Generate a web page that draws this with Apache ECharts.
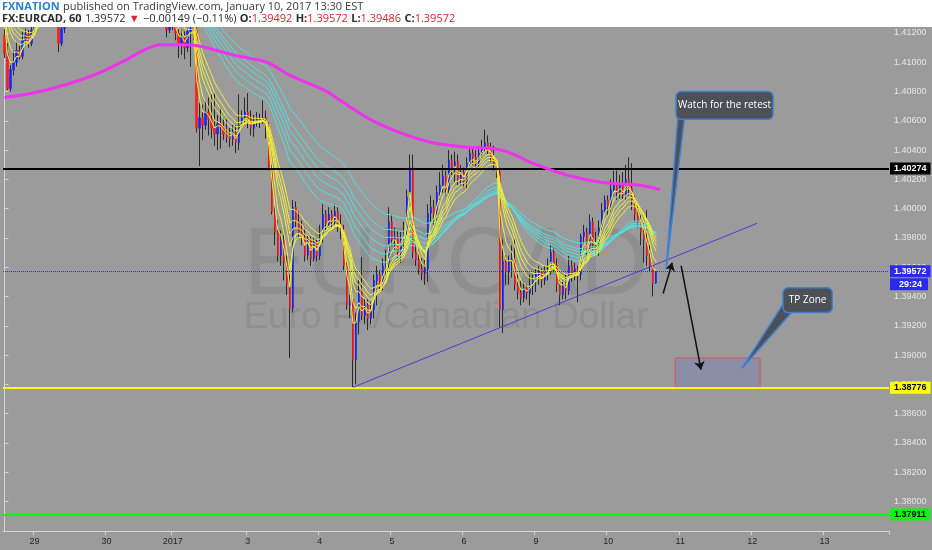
<!DOCTYPE html>
<html><head><meta charset="utf-8">
<script src="https://cdn.jsdelivr.net/npm/echarts@6/dist/echarts.min.js"></script>
<style>html,body{margin:0;padding:0;background:#9b9b9b;}#c{width:932px;height:550px;}</style>
</head><body><div id="c"></div>
<script>
// ---- axis / tick data ----
const barCount = 295;
const dayLabels = ['29','30','2017','3','4','5','6','9','10','11','12','13'];
const dayLabelBars = [10,34,56,81,105,129,153,177,201,225,249,273];
const yTicks = [1.380,1.382,1.384,1.386,1.388,1.390,1.392,1.394,1.396,1.398,1.400,1.402,1.404,1.406,1.408,1.410,1.412];
const yMin = 1.37798, yMax = 1.41241;

// ---- hourly EURCAD candles ----
const opens = [
1.4119,1.4106,1.4082,1.4095,1.4100,1.4108,1.4104,1.4115,1.4119,1.4113,
1.4122,1.4129,1.4145,1.4141,1.4150,1.4145,1.4140,1.4147,1.4139,1.4113,
1.4123,1.4143,1.4158,1.4165,1.4172,1.4177,1.4173,1.4180,1.4176,1.4182,
1.4187,1.4181,1.4185,1.4179,1.4175,1.4180,1.4184,1.4178,1.4174,1.4178,
1.4171,1.4175,1.4169,1.4173,1.4167,1.4170,1.4164,1.4168,1.4162,1.4166,
1.4161,1.4159,1.4149,1.4144,1.4134,1.4122,1.4125,1.4128,1.4120,1.4112,
1.4117,1.4110,1.4121,1.4123,1.4122,1.4055,1.4062,1.4057,1.4066,1.4061,
1.4055,1.4051,1.4058,1.4056,1.4051,1.4049,1.4048,1.4052,1.4045,1.4057,
1.4062,1.4066,1.4061,1.4055,1.4059,1.4061,1.4060,1.4062,1.4056,1.4028,
1.3998,1.3984,1.3968,1.3979,1.3964,1.3948,1.3932,1.4001,1.3991,1.3984,
1.3980,1.3968,1.3979,1.3966,1.3977,1.3968,1.3980,1.3996,1.3989,1.3996,
1.3991,1.3998,1.3989,1.3984,1.3961,1.3934,1.3938,1.3897,1.3923,1.3944,
1.3927,1.3934,1.3925,1.3931,1.3951,1.3955,1.3947,1.3961,1.3963,1.3991,
1.3979,1.3981,1.3970,1.3979,1.3985,1.4008,1.4028,1.3970,1.3965,1.3959,
1.3956,1.3959,1.3997,1.4001,1.3996,1.4011,1.4016,1.4022,1.4013,1.4033,
1.4028,1.4032,1.4020,1.4025,1.4018,1.4031,1.4038,1.4035,1.4031,1.4038,
1.4042,1.4045,1.4042,1.4035,1.4030,1.4025,1.3931,1.3964,1.3957,1.3964,
1.3965,1.3948,1.3943,1.3939,1.3946,1.3942,1.3948,1.3951,1.3955,1.3957,
1.3951,1.3957,1.3959,1.3970,1.3961,1.3948,1.3941,1.3948,1.3944,1.3961,
1.3955,1.3959,1.3955,1.3981,1.3984,1.3972,1.3991,1.3975,1.3972,1.3987,
1.3999,1.4006,1.4001,1.4013,1.4018,1.4011,1.4016,1.4009,1.4020,1.4014,
1.4006,1.3996,1.3991,1.3984,1.3979,1.3968,1.3961,1.39492];
const closes = [
1.4106,1.4082,1.4095,1.4100,1.4108,1.4104,1.4115,1.4119,1.4113,1.4122,
1.4129,1.4145,1.4141,1.4150,1.4145,1.4140,1.4147,1.4139,1.4113,1.4123,
1.4143,1.4158,1.4165,1.4172,1.4177,1.4173,1.4180,1.4176,1.4182,1.4187,
1.4181,1.4185,1.4179,1.4175,1.4180,1.4184,1.4178,1.4174,1.4178,1.4171,
1.4175,1.4169,1.4173,1.4167,1.4170,1.4164,1.4168,1.4162,1.4166,1.4161,
1.4159,1.4149,1.4144,1.4134,1.4122,1.4125,1.4128,1.4120,1.4112,1.4117,
1.4110,1.4121,1.4123,1.4122,1.4055,1.4062,1.4057,1.4066,1.4061,1.4055,
1.4051,1.4058,1.4056,1.4051,1.4049,1.4048,1.4052,1.4045,1.4057,1.4062,
1.4066,1.4061,1.4055,1.4059,1.4061,1.4060,1.4062,1.4056,1.4028,1.3998,
1.3984,1.3968,1.3979,1.3964,1.3948,1.3932,1.4001,1.3991,1.3984,1.3980,
1.3968,1.3979,1.3966,1.3977,1.3968,1.3980,1.3996,1.3989,1.3996,1.3991,
1.3998,1.3989,1.3984,1.3961,1.3934,1.3938,1.3897,1.3923,1.3944,1.3927,
1.3934,1.3925,1.3931,1.3951,1.3955,1.3947,1.3961,1.3963,1.3991,1.3979,
1.3981,1.3970,1.3979,1.3985,1.4008,1.4028,1.3970,1.3965,1.3959,1.3956,
1.3959,1.3997,1.4001,1.3996,1.4011,1.4016,1.4022,1.4013,1.4033,1.4028,
1.4032,1.4020,1.4025,1.4018,1.4031,1.4038,1.4035,1.4031,1.4038,1.4042,
1.4045,1.4042,1.4035,1.4030,1.4025,1.3931,1.3964,1.3957,1.3964,1.3965,
1.3948,1.3943,1.3939,1.3946,1.3942,1.3948,1.3951,1.3955,1.3957,1.3951,
1.3957,1.3959,1.3970,1.3961,1.3948,1.3941,1.3948,1.3944,1.3961,1.3955,
1.3959,1.3955,1.3981,1.3984,1.3972,1.3991,1.3975,1.3972,1.3987,1.3999,
1.4006,1.4001,1.4013,1.4018,1.4011,1.4016,1.4009,1.4020,1.4014,1.4006,
1.3996,1.3991,1.3984,1.3979,1.3968,1.3961,1.3949,1.39572];
const lows = [
1.4103,1.4081,1.4080,1.4091,1.4097,1.4102,1.4102,1.4112,1.4110,1.4111,
1.4120,1.4126,1.4138,1.4138,1.4142,1.4137,1.4137,1.4136,1.4107,1.4111,
1.4120,1.4140,1.4155,1.4162,1.4169,1.4170,1.4170,1.4173,1.4173,1.4179,
1.4178,1.4178,1.4176,1.4172,1.4172,1.4177,1.4175,1.4171,1.4171,1.4168,
1.4168,1.4166,1.4166,1.4164,1.4164,1.4161,1.4161,1.4159,1.4159,1.4158,
1.4156,1.4146,1.4141,1.4131,1.4117,1.4120,1.4122,1.4115,1.4103,1.4105,
1.4102,1.4107,1.4097,1.4115,1.4052,1.4029,1.4047,1.4054,1.4050,1.4048,
1.4043,1.4040,1.4041,1.4047,1.4045,1.4042,1.4043,1.4038,1.4040,1.4054,
1.4057,1.4055,1.4050,1.4049,1.4056,1.4055,1.4058,1.4048,1.4026,1.3996,
1.3975,1.3964,1.3961,1.3951,1.3941,1.3898,1.3929,1.3987,1.3980,1.3975,
1.3964,1.3965,1.3961,1.3964,1.3964,1.3965,1.3977,1.3984,1.3987,1.3987,
1.3988,1.3984,1.3979,1.3958,1.3931,1.3925,1.3878,1.3880,1.3914,1.3924,
1.3921,1.3917,1.3921,1.3925,1.3934,1.3943,1.3944,1.3955,1.3959,1.3975,
1.3972,1.3966,1.3963,1.3972,1.3982,1.4006,1.3966,1.3961,1.3955,1.3951,
1.3948,1.3950,1.3991,1.3989,1.3992,1.4006,1.4011,1.4009,1.4009,1.4023,
1.4018,1.4016,1.4016,1.4014,1.4014,1.4028,1.4030,1.4026,1.4028,1.4035,
1.4039,1.4037,1.4032,1.4026,1.4021,1.3919,1.3915,1.3948,1.3948,1.3953,
1.3944,1.3938,1.3934,1.3936,1.3938,1.3934,1.3941,1.3943,1.3948,1.3946,
1.3948,1.3951,1.3955,1.3957,1.3943,1.3934,1.3938,1.3938,1.3941,1.3950,
1.3951,1.3936,1.3951,1.3972,1.3968,1.3968,1.3970,1.3968,1.3968,1.3984,
1.3996,1.3996,1.3998,1.4009,1.4006,1.4007,1.4006,1.4006,1.4009,1.3999,
1.3991,1.3987,1.3975,1.3963,1.3961,1.3957,1.3940,1.39486];
const highs = [
1.4123,1.4113,1.4098,1.4108,1.4114,1.4112,1.4121,1.4123,1.4122,1.4128,
1.4136,1.4149,1.4149,1.4154,1.4154,1.4149,1.4151,1.4151,1.4142,1.4129,
1.4147,1.4162,1.4169,1.4176,1.4181,1.4181,1.4184,1.4184,1.4186,1.4191,
1.4191,1.4189,1.4189,1.4183,1.4184,1.4188,1.4188,1.4182,1.4182,1.4182,
1.4179,1.4179,1.4177,1.4177,1.4174,1.4174,1.4172,1.4172,1.4170,1.4170,
1.4165,1.4163,1.4153,1.4148,1.4136,1.4132,1.4133,1.4130,1.4123,1.4122,
1.4121,1.4123,1.4129,1.4129,1.4125,1.4072,1.4071,1.4074,1.4076,1.4078,
1.4079,1.4064,1.4069,1.4062,1.4061,1.4055,1.4057,1.4057,1.4078,1.4067,
1.4076,1.4079,1.4067,1.4064,1.4066,1.4065,1.4074,1.4067,1.4059,1.4030,
1.4001,1.3992,1.3985,1.3982,1.3968,1.3955,1.4006,1.4005,1.3998,1.3992,
1.3987,1.3982,1.3981,1.3980,1.3979,1.3989,1.4003,1.3999,1.4001,1.3999,
1.4003,1.4001,1.3996,1.3989,1.3963,1.3941,1.3939,1.3929,1.3951,1.3967,
1.3939,1.3938,1.3936,1.3955,1.3961,1.3958,1.3966,1.3972,1.4001,1.3996,
1.3987,1.3985,1.3984,1.3991,1.4013,1.4037,1.4037,1.3975,1.3972,1.3966,
1.3965,1.4003,1.4009,1.4006,1.4016,1.4025,1.4030,1.4026,1.4040,1.4037,
1.4039,1.4037,1.4030,1.4028,1.4035,1.4041,1.4041,1.4040,1.4043,1.4047,
1.4054,1.4050,1.4045,1.4043,1.4033,1.4028,1.3979,1.3968,1.3968,1.3975,
1.3979,1.3955,1.3951,1.3950,1.3948,1.3955,1.3955,1.3959,1.3961,1.3959,
1.3961,1.3966,1.3975,1.3973,1.3966,1.3955,1.3951,1.3955,1.3968,1.3965,
1.3963,1.3961,1.3983,1.3989,1.3987,1.3996,1.3994,1.3984,1.3992,1.4004,
1.4009,1.4009,1.4020,1.4026,1.4026,1.4023,1.4025,1.4030,1.4035,1.4031,
1.4009,1.4003,1.3996,1.3991,1.3999,1.3975,1.3963,1.39572];

// ---- indicators ----
const gmmaShort = [3,5,8,10,12,15];
const gmmaLong = [30,35,40,45,50,60];
const gmmaSeed = 1.4150;               // level of the bands before the first visible bar (off-chart)
const longMaBars = [0,9.5,20.8,31.8,40.8,46.1,51.8,58.4,65.1,76.1,87.4,95.1,107.4,111.7,121.7,131.7,142.7,154,162.7,167.3,176,187.3,198.3,205,211.6,218.3];
const longMaVals = [1.4076,1.4079,1.4085,1.4093,1.4102,1.4108,1.4112,1.4112,1.4111,1.4105,1.4100,1.4091,1.4080,1.4074,1.4061,1.4052,1.4045,1.4042,1.4041,1.4039,1.4031,1.4023,1.4018,1.4017,1.4016,1.4013];

// ---- drawings ----
const levelVals = [1.40274, 1.39572, 1.38776, 1.37911];
const levelColors = ['#000000', '#2a2af0', '#ffff00', '#00ff00'];
const levelText = ['#ffffff', '#ffffff', '#000000', '#000000'];
const timerText = '29:24';
const trendBars = [116.1, 250.6];
const trendVals = [1.3878, 1.3990];
const tpBars = [223.3, 251.6];
const tpVals = [1.3898, 1.3878];
const arrowFrom = [[219.3, 1.3942], [225.3, 1.3961]];
const arrowTo = [[222.3, 1.3963], [231.9, 1.3890]];
const note1 = {text:'Watch for the retest', box:[[223.6,1.4080],[255.9,1.4061]], base:[[224.2,1.4062],[226.4,1.4062]], tip:[220.3,1.3959]};
const note2 = {text:'TP Zone', box:[[259.2,1.3946],[275.6,1.3929]], base:[[259.6,1.3936],[262.0,1.3929]], tip:[245.6,1.3891]};

// ---- build ----
const categories = Array.from({length: barCount}, (_, i) => 'b' + i);
const labelMap = {};
dayLabelBars.forEach((b, k) => { labelMap['b' + b] = dayLabels[k]; });
const showIdx = i => dayLabelBars.indexOf(i) >= 0;

function ema(vals, period, seed) {
  const k = 2 / (period + 1); let e = seed;
  return vals.map(v => { e += k * (v - e); return +e.toFixed(5); });
}

const wickData = lows.map((l, i) => [l, highs[i], l, highs[i]]);
const bodyData = opens.map((o, i) => [o, closes[i], Math.min(o, closes[i]), Math.max(o, closes[i])]);

const FONT = 'Liberation Sans, Arial, sans-serif';
const chart = echarts.init(document.getElementById('c'));

const series = [];
series.push({type:'candlestick', xAxisIndex:0, yAxisIndex:0, data: wickData, barWidth: 1, silent:true, z:2,
  itemStyle:{color:'#2a2a2a', color0:'#2a2a2a', borderColor:'#2a2a2a', borderColor0:'#2a2a2a', borderWidth:1}});
series.push({type:'candlestick', xAxisIndex:0, yAxisIndex:0, data: bodyData, barWidth: 2, silent:true, z:3,
  itemStyle:{color:'#1028ff', color0:'#ff1a1a', borderColor:'#1028ff', borderColor0:'#ff1a1a', borderWidth:0.6}});
gmmaLong.forEach(p => series.push({type:'line', xAxisIndex:0, data: ema(closes, p, gmmaSeed), showSymbol:false, silent:true, z:4,
  lineStyle:{width:1, color:'#4fe2e2'}}));
gmmaShort.forEach(p => series.push({type:'line', xAxisIndex:0, data: ema(closes, p, gmmaSeed), showSymbol:false, silent:true, z:4,
  lineStyle:{width:1, color:'#eeee3a'}}));
series.push({type:'line', xAxisIndex:1, data: longMaBars.map((b, i) => [b, longMaVals[i]]), showSymbol:false, smooth:0.3, silent:true, z:5,
  lineStyle:{width:3, color:'#ee33ee'}});

const levelMarks = levelVals.map((v, i) => ({
  yAxis: v,
  lineStyle: {color: levelColors[i], width: i === 1 ? 1 : 2, type: i === 1 ? 'dotted' : 'solid'},
  label: {show:true, position:'end', distance:1, formatter: v.toFixed(5), color: levelText[i], backgroundColor: levelColors[i],
    fontSize: 9, fontWeight:'bold', fontFamily: FONT, padding:[2,4,1,4]}
}));

series.push({type:'line', xAxisIndex:1, data: trendBars.map((b, i) => [b, trendVals[i]]), showSymbol:false, silent:true, z:6,
  lineStyle:{width:1, color:'#4a3ed6'},
  markLine:{silent:true, precision:5, symbol:['none','none'], animation:false, data: levelMarks},
  markArea:{silent:true, precision:5, itemStyle:{color:'rgba(105,118,190,0.35)', borderColor:'#d85060', borderWidth:1},
    data:[[{coord:[tpBars[0], tpVals[0]]},{coord:[tpBars[1], tpVals[1]]}]]}
});
series.push({type:'line', xAxisIndex:1, data: [], silent:true, z:7,
  markLine:{silent:true, precision:5, symbol:['none','arrow'], symbolSize:8, animation:false, label:{show:false},
    lineStyle:{color:'#111', width:1.5, type:'solid'},
    data: arrowFrom.map((f, i) => [{coord: f}, {coord: arrowTo[i]}])}
});

chart.setOption({
  animation:false,
  backgroundColor:'#9b9b9b',
  grid:{left:3, right:43, top:27, bottom:19, outerBoundsMode:'none'},
  xAxis:[
    {type:'category', data: categories, boundaryGap:true,
      axisLine:{show:true, lineStyle:{color:'#d4d4d4', width:1}},
      axisTick:{show:true, interval:(i) => showIdx(i), length:4, lineStyle:{color:'#d4d4d4'}},
      axisLabel:{interval:(i) => showIdx(i), formatter: v => labelMap[v] || '', color:'#262626', fontSize:9, margin:6,
        fontFamily:'Liberation Sans Narrow, Liberation Sans, sans-serif'},
      splitLine:{show:false}},
    {type:'value', min:-0.5, max: barCount - 0.5, show:false}
  ],
  yAxis:{type:'value', position:'right', min:yMin, max:yMax, scale:true,
    axisLine:{show:true, lineStyle:{color:'#d4d4d4', width:1}},
    axisTick:{show:true, customValues: yTicks, length:4, lineStyle:{color:'#d4d4d4'}},
    axisLabel:{customValues: yTicks, formatter: v => v.toFixed(5), color:'#e6e6e6', fontSize:9, margin:5, fontFamily: FONT},
    splitLine:{show:false}},
  series
});

// ---- overlays that follow the chart's scales ----
const toPx = pt => chart.convertToPixel({seriesIndex: series.length - 2}, pt);
function callout(n) {
  const a = toPx(n.box[0]), b = toPx(n.box[1]);
  const tip = toPx(n.tip), b0 = toPx(n.base[0]), b1 = toPx(n.base[1]);
  return [
    {type:'polygon', z:50, shape:{points:[b0, b1, tip]}, style:{fill:'#4d5055', stroke:'#3f7fd4', lineWidth:1.5}},
    {type:'rect', z:51, shape:{x:a[0], y:a[1], width:b[0]-a[0], height:b[1]-a[1], r:5}, style:{fill:'#4d5055', stroke:'#3f7fd4', lineWidth:1.5}},
    {type:'text', z:52, x:(a[0]+b[0])/2, y:(a[1]+b[1])/2, style:{text:n.text, fill:'#ffffff', font:'10px Open Sans, sans-serif', align:'center', verticalAlign:'middle'}}
  ];
}
const tp = toPx([barCount - 0.5, levelVals[1]]);
const gx = 446;
chart.setOption({graphic:[
  {type:'text', z:0, silent:true, x:gx, y:268, style:{text:'EURCAD', fill:'rgba(0,0,0,0.075)', font:'96px Liberation Sans, Arial, sans-serif', align:'center', verticalAlign:'middle'}},
  {type:'text', z:0, silent:true, x:gx, y:318, style:{text:'Euro Fx/Canadian Dollar', fill:'rgba(0,0,0,0.075)', font:'37px Liberation Sans, Arial, sans-serif', align:'center', verticalAlign:'middle'}},
  {type:'text', z:40, silent:true, x:tp[0] + 1, y:tp[1] + 7, style:{text: timerText, fill:'#ffffff', font:'bold 9px Liberation Sans, Arial, sans-serif',
    backgroundColor: levelColors[1], padding:[2,6,1,9], verticalAlign:'top', align:'left'}},
  {type:'rect', z:60, silent:true, shape:{x:0, y:0, width:932, height:27}, style:{fill:'#ffffff'}},
  {type:'text', z:61, x:2, y:7, style:{text:'{a|FXNATION} {b|published on TradingView.com, January 10, 2017 13:30 EST}', verticalAlign:'middle',
    rich:{a:{fill:'#2a7fd0', fontWeight:'bold', fontSize:11, fontFamily:'Open Sans, sans-serif'}, b:{fill:'#3a3a3a', fontSize:11, fontFamily:'Open Sans, sans-serif'}}}},
  {type:'text', z:61, x:2, y:19, style:{text:'{k|FX:EURCAD, 60} {v|1.39572} {r|\u25BC} {v|\u22120.00149 (\u22120.11%)} {k|O:}{r|1.39492} {k|H:}{r|1.39572} {k|L:}{r|1.39486} {k|C:}{r|1.39572}', verticalAlign:'middle',
    rich:{k:{fill:'#2b2b2b', fontWeight:'bold', fontSize:11, fontFamily:'Open Sans, sans-serif'}, v:{fill:'#2b2b2b', fontSize:11, fontFamily:'Open Sans, sans-serif'}, r:{fill:'#e0202a', fontSize:11, fontFamily:'Open Sans, sans-serif'}}}}
].concat(callout(note1), callout(note2))});
</script>
</body></html>
